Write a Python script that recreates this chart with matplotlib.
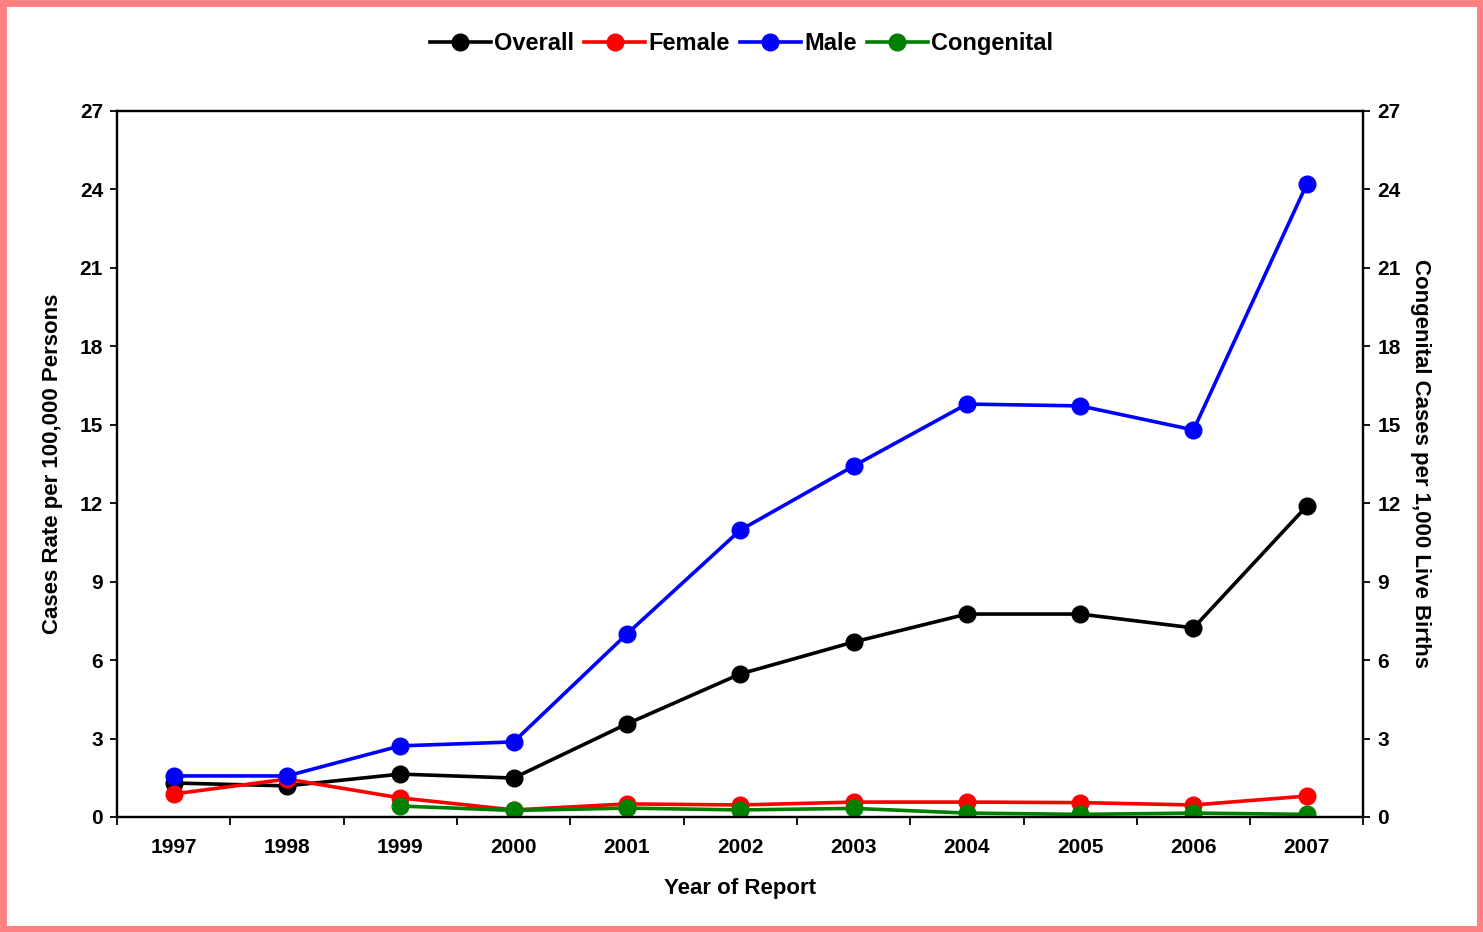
import matplotlib
matplotlib.use("Agg")
import matplotlib.pyplot as plt
from matplotlib.patches import Rectangle
from matplotlib.ticker import FixedLocator

plt.rcParams['font.family'] = ['Liberation Sans', 'DejaVu Sans']
plt.rcParams['font.weight'] = 'bold'

years = ['1997', '1998', '1999', '2000', '2001', '2002', '2003', '2004', '2005', '2006', '2007']
overall = [1.30, 1.19, 1.64, 1.49, 3.56, 5.47, 6.69, 7.76, 7.76, 7.23, 11.89]
female = [0.88, 1.45, 0.73, 0.27, 0.50, 0.46, 0.57, 0.57, 0.55, 0.46, 0.80]
male = [1.57, 1.57, 2.72, 2.87, 7.00, 10.97, 13.42, 15.79, 15.72, 14.80, 24.20]
cong_years = ['1999', '2000', '2001', '2002', '2003', '2004', '2005', '2006', '2007']
congenital = [0.42, 0.25, 0.34, 0.27, 0.33, 0.15, 0.10, 0.15, 0.10]
yticks = [0, 3, 6, 9, 12, 15, 18, 21, 24, 27]

fig = plt.figure(figsize=(14.83, 9.32), dpi=100)
fig.patches.append(Rectangle((0.002, 0.003), 0.996, 0.994, transform=fig.transFigure,
                             fill=False, edgecolor='#FF8080', linewidth=5))
ax = fig.add_axes([0.0789, 0.1234, 0.8405, 0.7576])
ax2 = ax.twinx()

x = list(range(len(years)))
xc = [years.index(y) for y in cong_years]
lw = 2.6
ms = 12
h1, = ax.plot(x, overall, color='black', lw=lw, marker='o', ms=ms, label='Overall')
h2, = ax.plot(x, female, color='#FF0000', lw=lw, marker='o', ms=ms, label='Female')
h3, = ax.plot(x, male, color='#0000FF', lw=lw, marker='o', ms=ms, label='Male')
h4, = ax2.plot(xc, congenital, color='#008000', lw=lw, marker='o', ms=ms, label='Congenital')

for a in (ax, ax2):
    a.set_ylim(0, 27)
    a.set_yticks(yticks)
    a.tick_params(axis='y', direction='out', length=5, width=1.3, labelsize=15, pad=5)
    for s in a.spines.values():
        s.set_linewidth(1.6)
ax.set_xlim(-0.5, len(years) - 0.5)
ax.set_xticks(x)
ax.set_xticklabels(years)
ax.xaxis.set_minor_locator(FixedLocator([i + 0.5 for i in range(-1, len(years))]))
ax.tick_params(axis='x', which='major', length=0, labelsize=15, pad=15)
ax.tick_params(axis='x', which='minor', length=6, width=1.3, direction='out')
for lab in ax.get_xticklabels() + ax.get_yticklabels() + ax2.get_yticklabels():
    lab.set_fontweight('bold')

ax.set_xlabel('Year of Report', fontsize=16, fontweight='bold', labelpad=15)
ax.set_ylabel('Cases Rate per 100,000 Persons', fontsize=16, fontweight='bold', labelpad=12)
ax2.set_ylabel('Congenital Cases per 1,000 Live Births', fontsize=16, fontweight='bold',
               rotation=270, labelpad=22)

fig.legend(handles=[h1, h2, h3, h4], loc='center', bbox_to_anchor=(0.5, 0.953), ncol=4,
           frameon=False, prop={'size': 17, 'weight': 'bold'}, handlelength=2.6,
           handletextpad=0.15, columnspacing=0.4)

fig.savefig('out.png', dpi=100)
